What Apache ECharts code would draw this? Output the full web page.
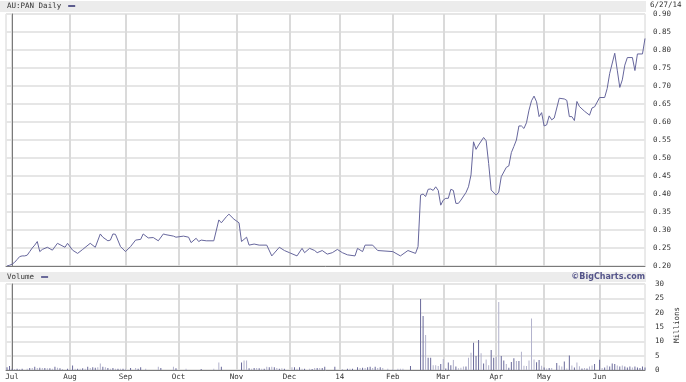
<!DOCTYPE html>
<html><head><meta charset="utf-8">
<script src="https://cdn.jsdelivr.net/npm/echarts@6/dist/echarts.min.js"></script>
<style>html,body{margin:0;padding:0;background:#fff}#c{width:686px;height:382px}</style>
</head><body><div id="c"></div>
<script>
// Trading-day index (0 = 1 Jul 2013) of each month's first session
const monthTicks = [0, 23, 45, 66, 89, 110, 130, 151, 171, 192, 211, 233];
const monthLabels = ['Jul','Aug','Sep','Oct','Nov','Dec','14','Feb','Mar','Apr','May','Jun'];

// Price (AUD) by trading-day index
const priceDay = [-2,-1,0,1,2,3,4,5,6,7,8,9,10,11,12,14,16,18,21,22,24,26,28,31,33,35,36,38,39,40,41,43,45,47,49,51,52,54,56,58,60,61,64,65,68,70,71,73,74,75,77,80,82,83,85,86,88,90,91,93,94,96,98,101,103,106,108,110,113,115,116,118,120,121,123,125,127,129,131,133,136,137,139,140,143,145,151,154,157,160,161,162,163,164,165,166,167,168,169,170,171,172,173,174,175,176,177,178,180,181,182,183,184,185,187,188,189,190,192,193,194,196,197,198,199,200,201,202,203,204,205,206,207,208,209,210,211,212,213,214,215,217,219,220,221,222,223,224,225,227,229,230,231,233,235,236,237,239,240,241,242,243,244,246,247,248,250,251];
const priceVal = [0.200,0.202,0.205,0.210,0.218,0.226,0.228,0.228,0.230,0.240,0.250,0.258,0.268,0.240,0.246,0.252,0.244,0.263,0.252,0.263,0.244,0.235,0.246,0.263,0.252,0.289,0.280,0.270,0.272,0.289,0.288,0.254,0.240,0.254,0.272,0.274,0.289,0.278,0.279,0.270,0.289,0.287,0.283,0.280,0.283,0.280,0.265,0.277,0.268,0.272,0.270,0.270,0.328,0.320,0.337,0.344,0.330,0.320,0.268,0.280,0.258,0.261,0.258,0.258,0.228,0.252,0.243,0.237,0.228,0.249,0.237,0.249,0.243,0.237,0.243,0.233,0.237,0.246,0.237,0.231,0.228,0.249,0.240,0.258,0.258,0.243,0.240,0.228,0.243,0.235,0.254,0.397,0.400,0.393,0.413,0.414,0.410,0.420,0.410,0.369,0.383,0.388,0.388,0.413,0.410,0.374,0.374,0.383,0.404,0.420,0.453,0.545,0.524,0.536,0.557,0.548,0.485,0.411,0.397,0.405,0.448,0.474,0.478,0.515,0.532,0.550,0.589,0.589,0.582,0.598,0.633,0.659,0.672,0.656,0.615,0.626,0.589,0.592,0.617,0.606,0.611,0.666,0.664,0.660,0.615,0.615,0.604,0.657,0.643,0.630,0.619,0.639,0.642,0.668,0.668,0.693,0.735,0.791,0.744,0.696,0.717,0.758,0.779,0.779,0.743,0.789,0.789,0.832];

// Volume (millions) by trading-day index; volUp: 1 = dark bar, 0 = light bar
const volDay = [-2,-1,0,1,2,3,4,6,7,8,9,10,11,12,13,14,15,16,17,18,19,20,22,23,24,25,26,27,28,29,30,31,32,33,34,35,36,37,38,39,40,41,42,43,44,45,47,49,50,51,53,58,59,64,65,69,75,80,82,83,91,92,93,94,95,96,97,98,99,100,101,102,103,104,105,106,107,108,111,112,113,114,115,116,118,119,120,121,122,123,124,128,131,133,134,135,137,138,139,140,141,142,143,144,145,146,147,149,151,153,154,155,158,162,163,164,165,166,167,168,169,170,171,172,173,174,175,176,177,178,179,180,181,182,183,184,185,186,187,188,189,190,191,192,193,194,195,196,197,198,199,200,201,202,203,204,205,206,207,208,209,210,211,212,213,214,216,217,218,219,220,221,222,223,224,225,226,227,228,229,230,231,233,234,235,236,237,238,239,240,241,242,243,244,245,246,247,248,249,250,251];
const volVal = [0.93,1.4,0.47,0.35,0.47,0.35,0.47,0.47,0.7,0.7,1.16,0.7,0.8,0.7,0.7,0.58,0.58,0.47,1.16,0.8,0.58,0.35,0.47,0.47,1.6,0.47,0.47,0.47,0.58,0.47,1.16,0.7,0.93,0.8,0.93,2.3,1.16,0.93,0.7,0.47,0.7,0.47,0.47,0.47,0.47,0.47,0.7,0.7,0.47,0.93,0.47,1.16,0.7,1.16,0.58,0.47,0.35,0.47,2.6,1.16,2.6,3.3,3.3,0.58,0.47,0.7,0.7,0.58,0.47,0.47,1.16,0.93,1.16,0.93,0.7,0.47,0.58,0.47,0.93,0.93,0.47,0.93,0.47,0.47,0.47,0.35,0.7,0.7,0.7,0.7,1.16,1.16,0.35,0.47,0.47,0.47,0.93,0.7,0.8,0.7,0.93,1.16,0.7,1.16,0.7,0.93,0.7,0.47,0.35,0.47,0.47,0.47,1.4,24.8,18.8,12.2,4.3,4.3,1.7,1.7,1.4,2.1,3.8,0.5,2.6,1.7,3.5,1.2,0.6,0.8,1.2,1.2,4.3,6.0,9.5,4.9,10.5,5.8,2.3,3.7,1.7,7.0,4.3,4.7,23.7,4.9,3.3,2.1,0.8,2.8,4.1,3.1,3.1,6.4,1.5,1.4,3.3,18.0,3.7,2.7,3.5,1.5,0.9,0.5,0.7,0.7,2.4,1.6,1.2,3.0,0.5,5.1,1.6,0.9,2.6,1.3,0.5,0.7,0.5,1.2,1.6,2.1,3.6,0.7,0.9,1.6,1.2,2.3,2.1,1.6,1.2,1.6,1.2,0.9,1.2,0.9,1.2,0.9,0.7,1.2,0.9];
const volUp = [1,1,1,0,1,0,1,0,1,0,1,0,1,0,1,0,1,0,1,0,1,0,1,0,1,0,1,0,1,0,1,0,1,1,0,0,1,0,1,0,1,0,1,0,1,0,1,0,1,1,0,0,1,0,1,0,1,0,0,1,1,0,0,1,0,1,0,1,0,1,0,1,0,1,0,1,0,1,0,1,0,1,0,1,0,1,0,1,0,1,1,1,0,1,0,1,1,0,1,0,1,1,0,1,0,1,0,0,0,0,0,0,1,1,1,0,1,1,0,0,0,1,0,1,1,1,0,1,0,0,0,1,0,0,1,1,1,0,1,0,0,1,1,0,0,1,1,0,1,1,1,0,1,0,0,0,0,0,0,1,1,0,1,0,1,0,1,0,0,1,0,1,0,1,0,0,1,0,1,0,0,1,1,0,1,0,1,1,1,0,1,0,1,1,1,0,1,1,1,1,1];

const FONT = '"DejaVu Sans Mono", monospace';
const TXT = '#333';
const labelMap = {};
monthTicks.forEach((t, i) => { labelMap[t] = monthLabels[i]; });

const chart = echarts.init(document.getElementById('c'), null, { renderer: 'canvas' });

const baseX = (gi, showLabels) => ({
  type: 'value', gridIndex: gi, min: -2.4, max: 251,
  axisLine: { show: true, onZero: false, lineStyle: { color: '#7a7a7a', width: 1 } },
  axisTick: { show: false, customValues: monthTicks },
  axisLabel: {
    show: showLabels, customValues: monthTicks, margin: 3,
    formatter: v => labelMap[v] || '', fontSize: 7.5, color: TXT, fontFamily: FONT
  },
  splitLine: { show: true, lineStyle: { color: '#dadada', width: 2 } }
});

chart.setOption({
  animation: false,
  textStyle: { fontFamily: FONT },
  graphic: [
    { type: 'rect', z: -10, shape: { x: 0, y: 1, width: 646, height: 11 }, style: { fill: '#ececec' } },
    { type: 'rect', z: -10, shape: { x: 0, y: 272, width: 646, height: 10 }, style: { fill: '#ececec' } },
    { type: 'text', left: 650, top: 1, style: { text: '6/27/14', fill: TXT, font: '7.5px ' + FONT } },
    { type: 'text', right: 41, top: 273, style: { text: '\u00A9BigCharts.com', fill: '#55558a', font: 'bold 8px "DejaVu Sans", sans-serif' } },
    { type: 'text', x: 673, y: 343, rotation: Math.PI / 2, style: { text: 'Millions', fill: TXT, font: '7.5px ' + FONT } }
  ],
  legend: [
    { data: ['AU:PAN Daily'], left: 7, top: 2, align: 'right', icon: 'rect', itemWidth: 7, itemHeight: 2,
      padding: 0, selectedMode: false, textStyle: { fontSize: 7.5, color: TXT, fontFamily: FONT, padding: [0, 2, 0, 0] } },
    { data: ['Volume'], left: 7, top: 273, align: 'right', icon: 'rect', itemWidth: 7, itemHeight: 2,
      padding: 0, selectedMode: false, textStyle: { fontSize: 7.5, color: TXT, fontFamily: FONT, padding: [0, 2, 0, 0] } }
  ],
  grid: [
    { left: 6, right: 41, top: 14, height: 252, show: true, borderColor: '#d4d4d4', borderWidth: 1, containLabel: false },
    { left: 6, right: 41, top: 284, height: 86, show: true, borderColor: '#d4d4d4', borderWidth: 1, containLabel: false }
  ],
  xAxis: [baseX(0, false), baseX(1, true)],
  yAxis: [
    { type: 'value', gridIndex: 0, position: 'right', min: 0.2, max: 0.9, interval: 0.05,
      axisLine: { show: true, lineStyle: { color: '#7a7a7a' } }, axisTick: { show: false },
      axisLabel: { formatter: v => v.toFixed(2), margin: 8, fontSize: 7.5, color: TXT, fontFamily: FONT },
      splitLine: { show: true, lineStyle: { color: '#e6e6e6', width: 2 } } },
    { type: 'value', gridIndex: 1, position: 'right', min: 0, max: 30, interval: 5,
      axisLine: { show: true, lineStyle: { color: '#7a7a7a' } }, axisTick: { show: false },
      axisLabel: { margin: 10, fontSize: 7.5, color: TXT, fontFamily: FONT },
      splitLine: { show: true, lineStyle: { color: '#e6e6e6', width: 2 } } }
  ],
  series: [
    { name: 'AU:PAN Daily', type: 'line', xAxisIndex: 0, yAxisIndex: 0,
      data: priceDay.map((d, i) => [d, priceVal[i]]),
      showSymbol: false, lineStyle: { color: '#66669c', width: 1 }, itemStyle: { color: '#5c5c8e' } },
    { name: 'Volume', type: 'bar', xAxisIndex: 1, yAxisIndex: 1, barWidth: 1,
      data: volDay.map((d, i) => ({ value: [d, volVal[i]], itemStyle: { color: volUp[i] ? '#6a6a9a' : '#b2b2cc' } })),
      itemStyle: { color: '#6a6a9a' } }
  ]
});
</script></body></html>
